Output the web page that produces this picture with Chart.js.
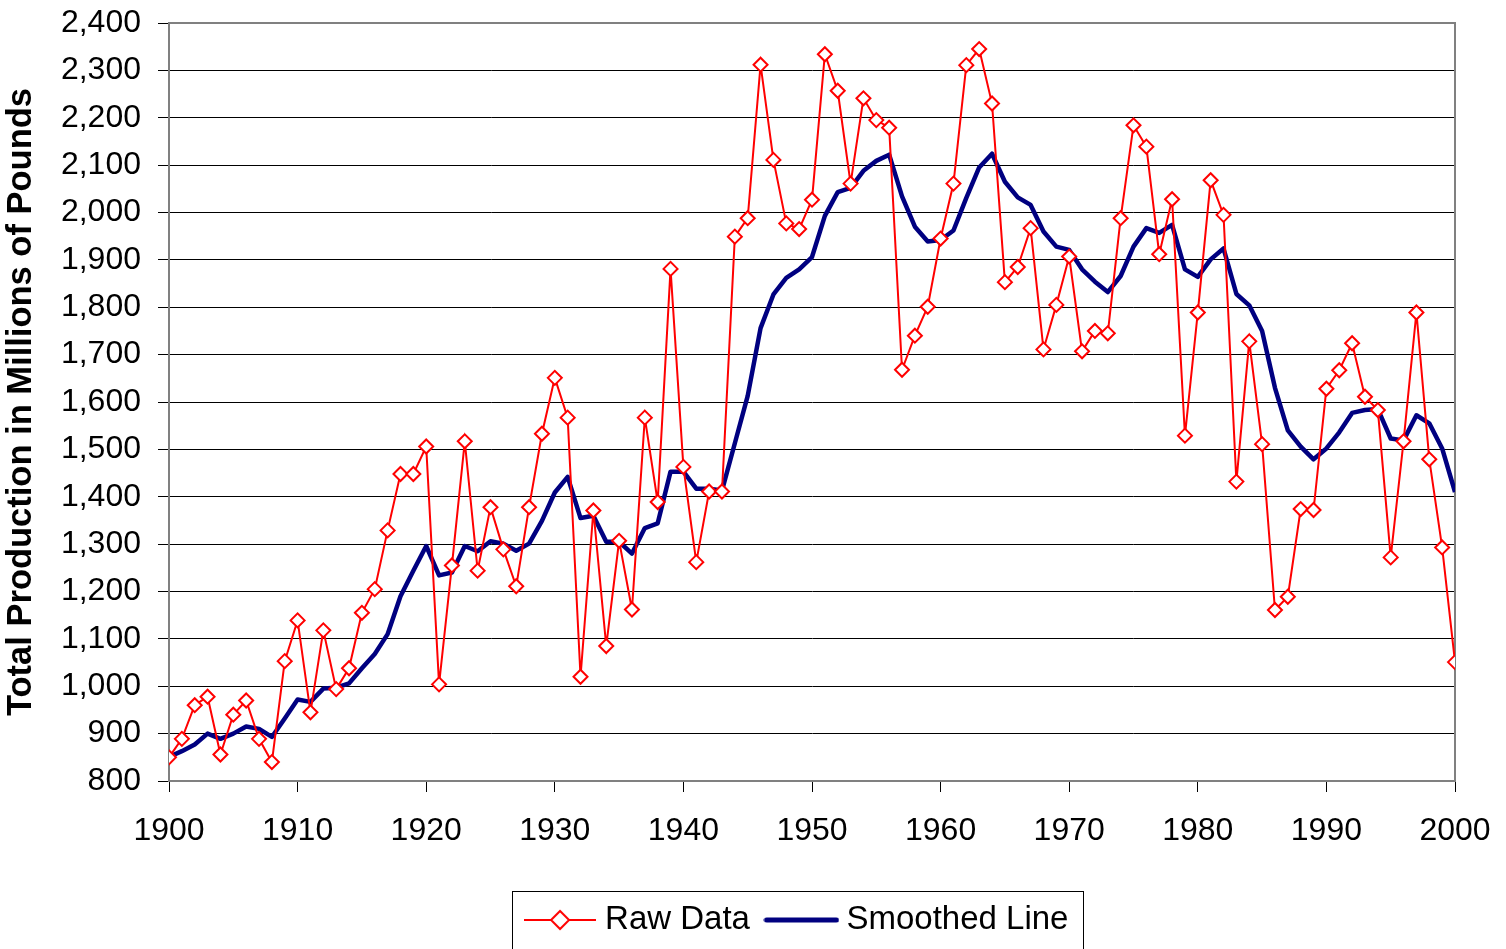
<!DOCTYPE html>
<html>
<head>
<meta charset="utf-8">
<script src="https://cdn.jsdelivr.net/npm/chart.js@4.4.1/dist/chart.umd.min.js"></script>
<style>
html,body{margin:0;padding:0;background:#fff;}
canvas{display:block;}
</style>
</head>
<body>
<canvas id="c" width="1506" height="949"></canvas>
<script>
// ---- data ----
const years = [];
for (let y = 1900; y <= 2000; y++) years.push(y);

const rawData = [
  850, 889, 960, 978, 856, 940, 970, 889, 840, 1053,
  1139, 945, 1118, 994, 1038, 1155, 1205, 1329, 1448, 1448,
  1506, 1004, 1255, 1517, 1244, 1378, 1289, 1211, 1378, 1533,
  1651, 1567, 1020, 1371, 1085, 1307, 1162, 1567, 1389, 1881,
  1463, 1262, 1411, 1411, 1949, 1988, 2312, 2111, 1977, 1965,
  2027, 2334, 2257, 2061, 2241, 2195, 2179, 1668, 1740, 1801,
  1945, 2061, 2311, 2345, 2230, 1853, 1885, 1967, 1711, 1805,
  1907, 1707, 1750, 1745, 1988, 2184, 2139, 1912, 2028, 1529,
  1789, 2068, 1995, 1432, 1728, 1511, 1161, 1189, 1374, 1372,
  1628, 1667, 1724, 1611, 1583, 1272, 1517, 1789, 1479, 1293,
  1051
];

const smoothedData = [
  851, 863, 877, 900, 889, 900, 915, 910, 893, 932,
  972, 967, 995, 997, 1006, 1038, 1068, 1110, 1190, 1244,
  1296, 1234, 1240, 1296, 1285, 1306, 1301, 1286, 1301, 1349,
  1409, 1442, 1355, 1360, 1305, 1305, 1280, 1334, 1344, 1453,
  1453, 1417, 1417, 1413, 1513, 1613, 1756, 1827, 1862, 1880,
  1906, 1993, 2043, 2052, 2088, 2109, 2122, 2034, 1970, 1939,
  1942, 1962, 2031, 2095, 2124, 2065, 2032, 2016, 1960, 1928,
  1921, 1880, 1854, 1832, 1866, 1928, 1967, 1957, 1974, 1880,
  1864, 1901, 1924, 1828, 1804, 1750, 1630, 1540, 1506, 1479,
  1502, 1536, 1577, 1583, 1585, 1523, 1519, 1572, 1555, 1502,
  1410
];

const seriesNames = ['Raw Data', 'Smoothed Line'];
const yAxisTitle = 'Total Production in Millions of Pounds';
const yMin = 800, yMax = 2400, yStep = 100;
const xMin = 1900, xMax = 2000, xStep = 10;

// ---- legend icons ----
function makeIcon(w, h, draw) {
  const c = document.createElement('canvas');
  c.width = w; c.height = h;
  draw(c.getContext('2d'));
  return c;
}
const rawIcon = makeIcon(72, 22, ctx => {
  ctx.strokeStyle = '#ff0000';
  ctx.lineWidth = 2;
  ctx.beginPath(); ctx.moveTo(0, 11); ctx.lineTo(72, 11); ctx.stroke();
  ctx.beginPath();
  ctx.moveTo(27, 11); ctx.lineTo(36, 2); ctx.lineTo(45, 11); ctx.lineTo(36, 20); ctx.closePath();
  ctx.fillStyle = '#ffffff'; ctx.fill(); ctx.stroke();
});
const smoothIcon = makeIcon(76, 10, ctx => {
  ctx.strokeStyle = '#000080';
  ctx.lineWidth = 5;
  ctx.lineCap = 'round';
  ctx.beginPath(); ctx.moveTo(3, 5); ctx.lineTo(73, 5); ctx.stroke();
});

const framePlugin = {
  id: 'frame',
  beforeDatasetsDraw(chart) {
    const {ctx, chartArea: a} = chart;
    ctx.save();
    ctx.strokeStyle = '#808080';
    ctx.lineWidth = 2;
    ctx.strokeRect(a.left, a.top, a.right - a.left, a.bottom - a.top);
    ctx.restore();
  },
  afterUpdate(chart) {
    const lg = chart.legend;
    if (!lg) return;
    lg.left = 500; lg.right = 1100; lg.width = 600;
    lg.top = 880.5; lg.bottom = 949; lg.height = 949 - 880.5;
  },
  afterDraw(chart) {
    const ctx = chart.ctx;
    ctx.save();
    ctx.strokeStyle = '#000';
    ctx.lineWidth = 1;
    ctx.strokeRect(512.5, 891.5, 571, 80);
    ctx.restore();
  }
};

function noPad(s) {
  s.paddingTop = 0; s.paddingBottom = 0; s.paddingLeft = 0; s.paddingRight = 0;
}

Chart.defaults.font.family = '"Liberation Sans", Arial, sans-serif';
Chart.defaults.color = '#000';

new Chart(document.getElementById('c'), {
  type: 'line',
  data: {
    datasets: [
      {
        label: seriesNames[0],
        data: years.map((y, i) => ({x: y, y: rawData[i]})),
        borderColor: '#ff0000',
        borderWidth: 2,
        pointStyle: 'rectRot',
        pointRadius: 7,
        pointBorderWidth: 2,
        pointBorderColor: '#ff0000',
        pointBackgroundColor: '#ffffff',
        tension: 0,
        fill: false
      },
      {
        label: seriesNames[1],
        data: years.map((y, i) => ({x: y, y: smoothedData[i]})),
        borderColor: '#000080',
        borderWidth: 4.5,
        pointRadius: 0,
        tension: 0,
        fill: false,
        borderJoinStyle: 'round'
      }
    ]
  },
  options: {
    responsive: false,
    devicePixelRatio: 1,
    animation: false,
    events: [],
    layout: {padding: {top: 23, right: 51, left: 0, bottom: 0}},
    scales: {
      x: {
        type: 'linear',
        min: xMin, max: xMax,
        afterFit(s) { s.height = 102; noPad(s); },
        ticks: {
          stepSize: xStep,
          font: {size: 32},
          color: '#000',
          padding: 20,
          maxRotation: 0,
          callback: v => String(v)
        },
        grid: {drawOnChartArea: false, tickLength: 11, tickColor: '#000', tickWidth: 1},
        border: {color: '#808080', width: 2}
      },
      y: {
        min: yMin, max: yMax,
        afterFit(s) { s.width = 169; noPad(s); },
        ticks: {
          stepSize: yStep,
          font: {size: 32},
          color: '#000',
          padding: 17,
          callback: v => Number(v).toLocaleString('en-US')
        },
        grid: {color: '#000', lineWidth: 1, tickLength: 11, tickColor: '#000'},
        border: {color: '#808080', width: 2},
        title: {
          display: true,
          text: yAxisTitle,
          font: {size: 34.5, weight: 'bold'},
          color: '#000',
          padding: {top: 1, bottom: 0}
        }
      }
    },
    plugins: {
      tooltip: {enabled: false},
      legend: {
        position: 'bottom',
        labels: {
          usePointStyle: true,
          pointStyleWidth: 57,
          padding: 23,
          font: {size: 33},
          color: '#000',
          generateLabels(chart) {
            const items = Chart.defaults.plugins.legend.labels.generateLabels(chart);
            if (items[0]) items[0].pointStyle = rawIcon;
            if (items[1]) items[1].pointStyle = smoothIcon;
            return items;
          }
        }
      }
    }
  },
  plugins: [framePlugin]
});
</script>
</body>
</html>
